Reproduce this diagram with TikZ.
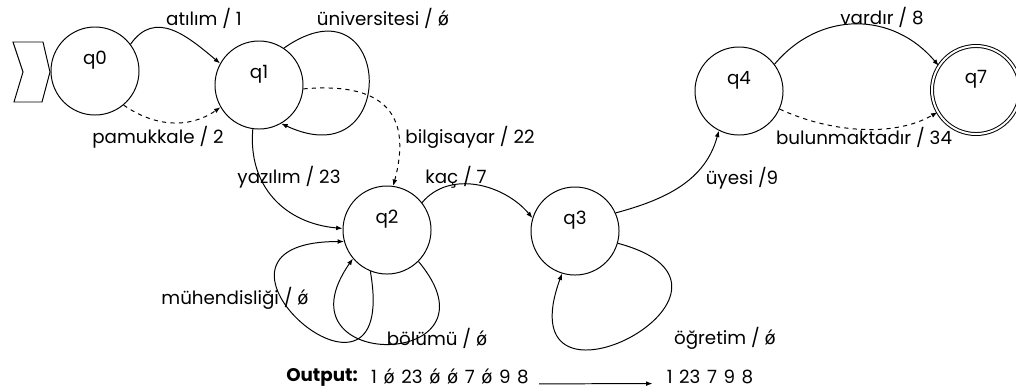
\documentclass[tikz,border=0pt]{standalone}
\usepackage{fontspec}
\setmainfont{Poppins}
\newfontfamily\symfont{DejaVu Sans}
\usepackage{tikz}
\usetikzlibrary{arrows.meta,positioning}
\newcommand{\nulout}{{\symfont ǿ}}
\newcommand{\sname}[1]{\raisebox{1.6mm}[0pt][0pt]{#1}}
\newcommand{\widespace}{\spaceskip=0.36em\relax}

\begin{document}
\begin{tikzpicture}[x=0.025cm, y=0.025cm, >={Latex[length=1.6mm,width=1.2mm]},
  state/.style={draw, circle, line width=0.7pt, minimum size=2.2cm, inner sep=0pt, font=\fontsize{13}{15}\selectfont},
  accept/.style={state, double, double distance=1.4pt},
  tr/.style={->, line width=0.7pt},
  alt/.style={tr, dashed},
  lbl/.style={font=\fontsize{13}{15}\selectfont, inner sep=1pt},
  seqtext/.style={lbl, inner sep=0pt, execute at begin node=\widespace}]
  \useasboundingbox (0,0) rectangle (1016,-390);

  % States
  \node[state] (q0) at (95,-71) {\sname{q0}};
  \node[state] (q1) at (259,-85) {\sname{q1}};
  \node[state] (q2) at (387,-230) {\sname{q2}};
  \node[state] (q3) at (575,-231) {\sname{q3}};
  \node[state] (q4) at (739,-91) {\sname{q4}};
  \node[accept] (q7) at (976,-90) {\sname{q7}};

  % Start marker
  \draw[line width=0.7pt] (13,-42) -- (43,-42) -- (50,-72) -- (42,-102) -- (14,-102) -- (23,-72) -- cycle;

  % Transitions
  \draw[tr] (q0.37) to[out=55, in=140, looseness=1.2] (q1.151);
  \draw[alt] (q0.-50) to[out=-35, in=-145] (q1.-150);
  \draw[tr] (q1.56) to[out=35, in=-25, looseness=4.5] (q1.-60);
  \draw[alt] (q1.-5) to[out=5, in=75, looseness=1.5] (q2.82);
  \draw[tr] (q1.-98) to[out=-95, in=175, looseness=1.1] (q2.178);
  \draw[tr] (q2.38) to[out=50, in=130] (q3.163);
  \draw[tr] (q2.-112) to[out=-80, in=180, looseness=11.5] (q2.195);
  \draw[tr] (q2.-45) to[out=-50, in=-125, looseness=5.5] (q2.-140);
  \draw[tr] (q3.-16) to[out=-15, in=-110, looseness=7] (q3.-107);
  \draw[tr] (q3.24) to[out=15, in=-105] (q4.-117);
  \draw[tr] (q4.37) to[out=50, in=130, looseness=1.1] (q7.147);
  \draw[alt] (q4.-24) to[out=-25, in=-150, looseness=0.85] (q7.-150);

  % Labels
  \node[lbl] (atilim) at (204,-18) {atılım / 1};
  \node[lbl] (pamuk) at (158,-137) {pamukkale / 2};
  \node[lbl] (univ) at (383,-18) {üniversitesi / \nulout};
  \node[lbl] (bilg) at (470,-137) {bilgisayar / 22};
  \node[lbl] (yazi) at (289,-177) {yazılım / 23};
  \node[lbl] (kac) at (456,-177) {kaç / 7};
  \node[lbl] (muh) at (235,-298) {mühendisliği / \nulout};
  \node[lbl] (bolum) at (437,-338) {bölümü / \nulout};
  \node[lbl] (ogret) at (725,-338) {öğretim / \nulout};
  \node[lbl] (uye) at (742,-178) {üyesi /9};
  \node[lbl] (vardir) at (882,-17) {vardır / 8};
  \node[lbl] (bulun) at (864,-137) {bulunmaktadır / 34};

  % Output line
  \node[lbl, inner sep=0pt] (outw) at (322,-377) {\textbf{Output:}};
  \node[seqtext] (seq) at (450,-377) {1 \nulout{} 23 \nulout{} \nulout{} 7 \nulout{} 9 8};
  \node[seqtext] (res) at (710,-377) {1 23 7 9 8};
  \draw[tr, shorten <=2.5mm, shorten >=3.5mm] (seq.base east) -- (res.base west);
\end{tikzpicture}
\end{document}
